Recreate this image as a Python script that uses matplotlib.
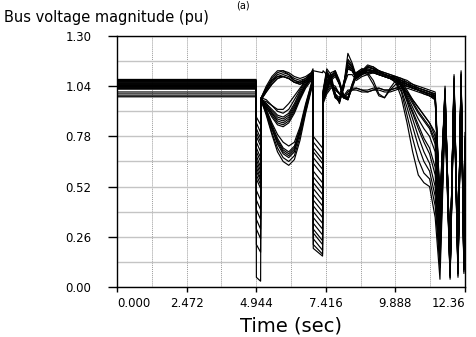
import numpy as np
import matplotlib
matplotlib.use("Agg")
import matplotlib.pyplot as plt
from matplotlib.ticker import MultipleLocator

plt.rcParams['font.family'] = ['DejaVu Sans']

# time points (s) shared by all buses
t = [0.0, 4.94, 4.95, 5.10, 5.12, 5.3, 5.5, 5.7, 5.9, 6.1, 6.3, 6.5, 6.7, 6.9, 6.96,
     6.97, 7.30, 7.32, 7.45, 7.6, 7.75, 7.9, 8.05, 8.2, 8.35, 8.5, 8.7, 8.9, 9.1,
     9.3, 9.5, 9.7, 9.9, 10.1, 10.3, 10.5, 10.7, 10.9, 11.1, 11.3, 11.47, 11.65,
     11.83, 11.97, 12.11, 12.22, 12.32, 12.36]

# bus voltage magnitudes (pu), one row per bus
bus_v = [
    [1.075, 1.075, 0.88, 0.84, 0.98, 1.03, 1.08, 1.11, 1.12, 1.11, 1.09, 1.08, 1.09, 1.11, 1.12,
     1.12, 1.11, 1.12, 1.10, 1.06, 1.02, 1.00, 1.05, 1.14, 1.13, 1.10, 1.12, 1.14, 1.13, 1.12, 1.11, 1.10, 1.09,
     1.08, 1.07, 1.05, 1.04, 1.03, 1.02, 1.01, 0.45, 1.02, 0.12, 1.08, 0.15, 1.10, 0.20, 0.80],
    [1.070, 1.070, 0.85, 0.80, 0.97, 1.02, 1.07, 1.10, 1.11, 1.10, 1.08, 1.07, 1.08, 1.10, 1.11,
     0.78, 0.72, 1.00, 1.06, 1.11, 1.12, 1.06, 0.98, 0.97, 1.04, 1.11, 1.13, 1.12, 1.12, 1.11, 1.10, 1.09, 1.08,
     1.07, 1.05, 1.04, 1.02, 1.01, 1.00, 0.99, 0.40, 1.00, 0.10, 1.06, 0.12, 1.09, 0.16, 0.75],
    [1.068, 1.068, 0.82, 0.77, 0.98, 1.04, 1.09, 1.12, 1.12, 1.10, 1.07, 1.06, 1.08, 1.11, 1.13,
     0.75, 0.69, 1.02, 1.13, 1.10, 1.00, 0.95, 1.04, 1.21, 1.16, 1.09, 1.12, 1.15, 1.14, 1.12, 1.11, 1.10, 1.09,
     1.08, 1.06, 1.05, 1.03, 1.02, 1.01, 1.00, 0.35, 1.04, 0.08, 1.10, 0.10, 1.12, 0.12, 0.70],
    [1.065, 1.065, 0.80, 0.75, 0.97, 1.01, 1.05, 1.08, 1.09, 1.08, 1.06, 1.06, 1.07, 1.09, 1.10,
     0.72, 0.66, 0.98, 1.02, 1.05, 1.04, 1.00, 0.98, 1.01, 1.03, 1.03, 1.02, 1.02, 1.03, 1.03, 1.02, 1.02, 1.03,
     1.04, 1.04, 1.03, 1.02, 1.01, 1.00, 0.99, 0.42, 0.98, 0.14, 1.04, 0.16, 1.06, 0.18, 0.78],
    [1.062, 1.062, 0.78, 0.73, 0.97, 1.02, 1.06, 1.09, 1.10, 1.09, 1.07, 1.06, 1.07, 1.09, 1.11,
     0.70, 0.64, 1.01, 1.11, 1.08, 1.00, 0.96, 1.03, 1.16, 1.14, 1.09, 1.11, 1.14, 1.14, 1.12, 1.10, 1.09, 1.08,
     1.06, 1.02, 0.97, 0.93, 0.89, 0.85, 0.78, 0.25, 0.96, 0.07, 1.05, 0.09, 1.08, 0.11, 0.65],
    [1.058, 1.058, 0.75, 0.70, 0.98, 1.03, 1.07, 1.09, 1.09, 1.08, 1.06, 1.05, 1.07, 1.09, 1.10,
     0.67, 0.61, 0.99, 1.04, 1.09, 1.11, 1.05, 0.99, 0.98, 1.05, 1.11, 1.12, 1.11, 1.11, 1.10, 1.09, 1.08, 1.08,
     1.06, 1.05, 1.03, 1.02, 1.01, 1.00, 0.98, 0.38, 1.02, 0.11, 1.07, 0.13, 1.10, 0.15, 0.72],
    [1.055, 1.055, 0.72, 0.67, 0.97, 1.01, 1.05, 1.08, 1.09, 1.08, 1.06, 1.05, 1.06, 1.08, 1.09,
     0.64, 0.58, 1.00, 1.10, 1.07, 0.99, 0.97, 1.04, 1.13, 1.12, 1.08, 1.10, 1.11, 1.07, 1.00, 0.98, 1.03, 1.07,
     1.04, 0.96, 0.87, 0.78, 0.70, 0.64, 0.52, 0.18, 0.94, 0.06, 1.03, 0.08, 1.07, 0.10, 0.60],
    [1.052, 1.052, 0.70, 0.65, 0.97, 0.96, 0.94, 0.92, 0.92, 0.95, 0.99, 1.03, 1.07, 1.10, 1.11,
     0.60, 0.54, 0.97, 1.03, 1.09, 1.12, 1.07, 0.99, 0.97, 1.04, 1.10, 1.12, 1.11, 1.12, 1.11, 1.10, 1.09, 1.08,
     1.07, 1.06, 1.04, 1.03, 1.02, 1.01, 0.99, 0.44, 1.00, 0.13, 1.06, 0.14, 1.09, 0.17, 0.76],
    [1.050, 1.050, 0.68, 0.62, 0.98, 0.97, 0.94, 0.91, 0.90, 0.92, 0.97, 1.02, 1.07, 1.10, 1.12,
     0.57, 0.51, 1.01, 1.11, 1.07, 0.99, 0.96, 1.05, 1.17, 1.14, 1.09, 1.12, 1.14, 1.13, 1.11, 1.10, 1.09, 1.09,
     1.07, 1.05, 1.04, 1.03, 1.02, 1.01, 1.00, 0.36, 1.03, 0.09, 1.09, 0.11, 1.11, 0.13, 0.74],
    [1.047, 1.047, 0.66, 0.60, 0.97, 0.95, 0.92, 0.89, 0.88, 0.90, 0.95, 1.01, 1.06, 1.09, 1.11,
     0.54, 0.48, 0.98, 1.04, 1.10, 1.11, 1.05, 0.98, 0.98, 1.05, 1.11, 1.13, 1.12, 1.12, 1.11, 1.10, 1.09, 1.08,
     1.05, 1.00, 0.95, 0.90, 0.86, 0.82, 0.74, 0.22, 0.95, 0.07, 1.04, 0.08, 1.07, 0.10, 0.62],
    [1.044, 1.044, 0.64, 0.58, 0.97, 0.95, 0.91, 0.88, 0.87, 0.89, 0.94, 1.00, 1.05, 1.08, 1.10,
     0.51, 0.45, 0.97, 1.01, 1.04, 1.03, 1.00, 0.99, 1.02, 1.02, 1.02, 1.01, 1.01, 1.02, 1.02, 1.01, 1.01, 1.02,
     1.03, 1.03, 1.02, 1.01, 1.00, 0.99, 0.98, 0.40, 0.97, 0.13, 1.02, 0.15, 1.05, 0.18, 0.77],
    [1.041, 1.041, 0.62, 0.56, 0.98, 0.94, 0.90, 0.87, 0.86, 0.88, 0.93, 0.99, 1.05, 1.09, 1.11,
     0.48, 0.42, 1.00, 1.09, 1.06, 0.98, 0.96, 1.05, 1.15, 1.13, 1.09, 1.11, 1.13, 1.12, 1.11, 1.10, 1.09, 1.08,
     1.04, 0.97, 0.90, 0.82, 0.75, 0.69, 0.58, 0.16, 0.92, 0.06, 1.02, 0.07, 1.06, 0.09, 0.58],
    [1.038, 1.038, 0.60, 0.55, 0.97, 0.94, 0.90, 0.86, 0.85, 0.87, 0.92, 0.98, 1.04, 1.08, 1.10,
     0.45, 0.39, 0.97, 1.03, 1.08, 1.10, 1.06, 0.99, 0.98, 1.04, 1.10, 1.12, 1.11, 1.11, 1.10, 1.09, 1.08, 1.07,
     1.06, 1.04, 1.03, 1.02, 1.01, 1.00, 0.98, 0.43, 0.99, 0.12, 1.05, 0.13, 1.08, 0.16, 0.74],
    [1.035, 1.035, 0.58, 0.53, 0.96, 0.93, 0.89, 0.85, 0.84, 0.86, 0.91, 0.98, 1.04, 1.08, 1.10,
     0.42, 0.36, 1.00, 1.08, 1.06, 0.99, 0.97, 1.06, 1.14, 1.12, 1.08, 1.10, 1.13, 1.12, 1.11, 1.10, 1.09, 1.08,
     1.05, 1.01, 0.96, 0.91, 0.87, 0.83, 0.76, 0.24, 0.96, 0.08, 1.04, 0.09, 1.07, 0.11, 0.64],
    [1.032, 1.032, 0.56, 0.51, 0.97, 0.93, 0.88, 0.84, 0.83, 0.85, 0.90, 0.97, 1.03, 1.07, 1.09,
     0.39, 0.33, 0.97, 1.02, 1.08, 1.10, 1.06, 0.99, 0.98, 1.04, 1.09, 1.11, 1.11, 1.11, 1.10, 1.09, 1.08, 1.06,
     1.01, 0.89, 0.77, 0.66, 0.59, 0.56, 0.42, 0.10, 0.90, 0.05, 1.00, 0.06, 1.05, 0.08, 0.55],
    [1.030, 1.030, 0.40, 0.35, 0.98, 0.92, 0.84, 0.77, 0.72, 0.70, 0.73, 0.82, 0.94, 1.05, 1.10,
     0.36, 0.30, 1.00, 1.10, 1.07, 0.99, 0.96, 1.04, 1.15, 1.13, 1.08, 1.11, 1.14, 1.13, 1.11, 1.10, 1.09, 1.08,
     1.06, 1.05, 1.03, 1.02, 1.01, 0.99, 0.97, 0.39, 1.01, 0.11, 1.06, 0.12, 1.09, 0.14, 0.73],
    [1.027, 1.027, 0.30, 0.25, 0.97, 0.91, 0.82, 0.74, 0.69, 0.67, 0.70, 0.80, 0.93, 1.04, 1.09,
     0.33, 0.27, 0.97, 1.03, 1.08, 1.10, 1.05, 0.98, 0.97, 1.04, 1.10, 1.12, 1.11, 1.12, 1.11, 1.10, 1.09, 1.07,
     1.04, 0.99, 0.93, 0.87, 0.82, 0.78, 0.70, 0.20, 0.94, 0.07, 1.03, 0.08, 1.06, 0.10, 0.61],
    [1.025, 1.025, 0.22, 0.18, 0.98, 0.90, 0.80, 0.72, 0.67, 0.65, 0.68, 0.78, 0.91, 1.03, 1.08,
     0.30, 0.24, 0.99, 1.07, 1.05, 0.98, 0.97, 1.05, 1.13, 1.12, 1.08, 1.10, 1.12, 1.12, 1.10, 1.09, 1.08, 1.07,
     1.02, 0.93, 0.83, 0.73, 0.65, 0.60, 0.47, 0.12, 0.91, 0.05, 1.01, 0.07, 1.05, 0.09, 0.57],
    [1.010, 1.010, 0.05, 0.03, 0.97, 0.89, 0.79, 0.70, 0.65, 0.63, 0.66, 0.76, 0.90, 1.02, 1.08,
     0.25, 0.19, 0.96, 1.02, 1.07, 1.09, 1.05, 0.98, 0.97, 1.03, 1.09, 1.11, 1.10, 1.11, 1.10, 1.09, 1.08, 1.06,
     0.98, 0.85, 0.70, 0.58, 0.54, 0.52, 0.36, 0.04, 0.88, 0.04, 0.98, 0.05, 1.03, 0.07, 0.52],
    [1.000, 1.000, 0.50, 0.45, 0.97, 0.91, 0.83, 0.76, 0.71, 0.69, 0.72, 0.81, 0.93, 1.04, 1.09,
     0.22, 0.17, 0.98, 1.06, 1.06, 1.00, 0.98, 1.04, 1.10, 1.10, 1.07, 1.09, 1.10, 1.05, 0.99, 0.98, 1.02, 1.05,
     1.05, 1.04, 1.03, 1.02, 1.00, 0.99, 0.97, 0.41, 0.99, 0.12, 1.04, 0.14, 1.07, 0.17, 0.75],
    [0.990, 0.990, 0.45, 0.40, 0.96, 0.90, 0.82, 0.75, 0.70, 0.68, 0.71, 0.80, 0.92, 1.03, 1.07,
     0.28, 0.22, 0.95, 1.00, 1.03, 1.03, 1.00, 0.98, 1.00, 1.02, 1.03, 1.02, 1.01, 1.02, 1.03, 1.02, 1.02, 1.03,
     1.03, 1.01, 0.97, 0.93, 0.89, 0.85, 0.80, 0.28, 0.97, 0.09, 1.03, 0.11, 1.06, 0.13, 0.67],
    [0.985, 0.985, 0.35, 0.30, 0.97, 0.92, 0.85, 0.79, 0.75, 0.73, 0.75, 0.83, 0.95, 1.05, 1.10,
     0.20, 0.16, 1.01, 1.12, 1.08, 1.00, 0.96, 1.03, 1.18, 1.15, 1.09, 1.11, 1.14, 1.13, 1.12, 1.10, 1.09, 1.08,
     1.05, 0.98, 0.91, 0.84, 0.77, 0.72, 0.62, 0.15, 0.93, 0.06, 1.02, 0.07, 1.06, 0.09, 0.59],
]

x_ticks = [0.0, 2.472, 4.944, 7.416, 9.888, 12.36]
x_labels = ['0.000', '2.472', '4.944', '7.416', '9.888', '12.36']
y_ticks = [0.0, 0.26, 0.52, 0.78, 1.04, 1.30]
y_labels = ['0.00', '0.26', '0.52', '0.78', '1.04', '1.30']

fig = plt.figure(figsize=(4.77, 3.37), dpi=100)
ax = fig.add_axes([0.2453, 0.1484, 0.7296, 0.7448])

for v in bus_v:
    ax.plot(t, v, color='black', lw=0.85, solid_joinstyle='round')

ax.set_xlim(0, 12.36)
ax.set_ylim(0, 1.30)
ax.set_xticks(x_ticks, x_labels)
ax.set_yticks(y_ticks, y_labels)
ax.xaxis.set_minor_locator(MultipleLocator(1.236))
ax.yaxis.set_minor_locator(MultipleLocator(0.13))

# first and last x labels sit inside the axes span
xl = ax.get_xticklabels()
xl[0].set_ha('left')
xl[-1].set_ha('right')

# grid: every 1.236 s and every 0.13 pu
ax.grid(True, which='both', axis='x', color='#9a9a9a', lw=0.7, ls=(0, (1, 1)))
ax.grid(True, which='both', axis='y', color='#c4c4c4', lw=1.0)
ax.set_axisbelow(True)

ax.tick_params(axis='y', which='major', length=6.5, width=1.0, pad=12, labelsize=8.5)
ax.tick_params(axis='x', which='major', length=3.6, width=1.0, pad=3.5, labelsize=8.5)
ax.tick_params(which='minor', length=0)
for s in ax.spines.values():
    s.set_linewidth(1.0)

fig.text(4 / 477, 0.935, 'Bus voltage magnitude (pu)', fontsize=10.5, va='baseline', ha='left')
fig.text(291 / 477, 5 / 337, 'Time (sec)', fontsize=14, va='baseline', ha='center')
fig.text(243 / 477, 0.999, '(a)', fontsize=7, va='top', ha='center')

fig.savefig('out.png', dpi=100)
